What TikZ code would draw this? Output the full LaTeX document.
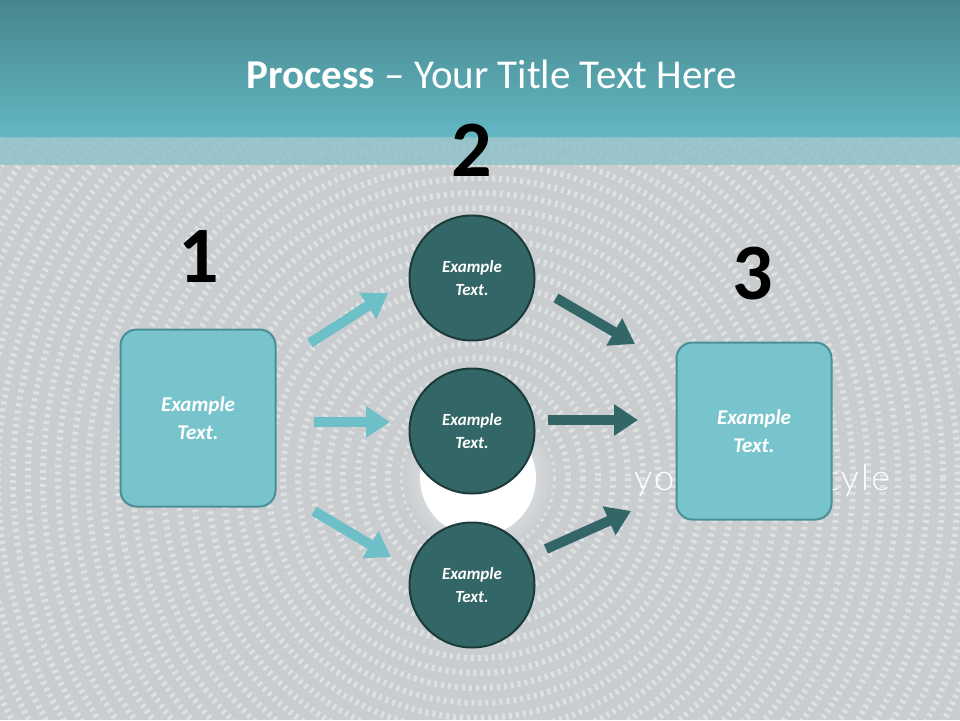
\documentclass[tikz,border=0pt]{standalone}
\usepackage{fontspec}
\setmainfont{Carlito}
\newfontfamily\logofont[LetterSpace=6]{Lato Light}
\usetikzlibrary{arrows.meta}
\definecolor{bg}{HTML}{C9CDD0}
\definecolor{tealA}{HTML}{47858C}
\definecolor{tealB}{HTML}{62B8C3}
\definecolor{boxf}{HTML}{78C4CC}
\definecolor{boxd}{HTML}{4A8F96}
\definecolor{circf}{HTML}{336666}
\definecolor{circd}{HTML}{1C3B3B}
\definecolor{lar}{HTML}{6DBFC8}
\tikzset{
  sq/.style={draw=boxd,line width=2pt,fill=boxf,rounded corners=16pt,minimum width=155pt,minimum height=177pt,text=white,font=\bfseries\itshape\fontsize{21}{28}\selectfont,align=center},
  circ/.style={circle,draw=circd,line width=2pt,fill=circf,minimum size=125pt,text=white,font=\bfseries\itshape\fontsize{17}{23}\selectfont,align=center},
  num/.style={font=\bfseries\fontsize{80}{80}\selectfont,text=black},
  larr/.style={lar,line width=10pt,-{Triangle[length=24pt,width=30pt]}},
  darr/.style={circf,line width=10pt,-{Triangle[length=24pt,width=30pt]}}
}
\begin{document}
\begin{tikzpicture}[x=1pt,y=-1pt]
\useasboundingbox (0,0) rectangle (960,720);
\fill[bg] (0,0) rectangle (960,720);
\begin{scope}
\clip (0,137) rectangle (960,720);
\foreach \r in {75,90,...,700}{
  \draw[white,opacity=0.4,line width=6pt,dash pattern=on 3pt off 4pt] (478,478) circle (\r);
}
\end{scope}
\shade[inner color=white,outer color=bg] (478,478) circle (75);
\fill[white] (478,478) circle (58);
\node[text=white,anchor=west,inner sep=0pt] (slog) at (634,481) {\resizebox{256pt}{!}{\logofont\fontsize{26}{26}\selectfont your logo style}};
\shade[top color=tealA,bottom color=tealB] (0,0) rectangle (960,137);
\fill[tealB!60!bg,opacity=0.8] (0,137) rectangle (960,165);
\node[text=white,font=\fontsize{41}{44}\selectfont] (title) at (492,74) {\textbf{Process} – Your Title Text Here};
\node[sq] (b1) at (198,418) {Example\\Text.};
\node[sq] (b3) at (754,431) {Example\\Text.};
\node[circ] (c1) at (472,278) {Example\\Text.};
\node[circ] (c2) at (472,431) {Example\\Text.};
\node[circ] (c3) at (472,585) {Example\\Text.};
\node[num] (n1) at (199,257) {1};
\node[num] (n2) at (472,150) {2};
\node[num] (n3) at (753,274) {3};
\coordinate (a1s) at (310,343); \coordinate (a1e) at (388,293);
\coordinate (a2s) at (314,422); \coordinate (a2e) at (390,422);
\coordinate (a3s) at (314,511); \coordinate (a3e) at (391,557);
\coordinate (d1s) at (556,298); \coordinate (d1e) at (635,344);
\coordinate (d2s) at (548,420); \coordinate (d2e) at (638,420);
\coordinate (d3s) at (546,549); \coordinate (d3e) at (631,511);
\draw[larr] (a1s) -- (a1e);
\draw[larr] (a2s) -- (a2e);
\draw[larr] (a3s) -- (a3e);
\draw[darr] (d1s) -- (d1e);
\draw[darr] (d2s) -- (d2e);
\draw[darr] (d3s) -- (d3e);
\end{tikzpicture}
\end{document}
